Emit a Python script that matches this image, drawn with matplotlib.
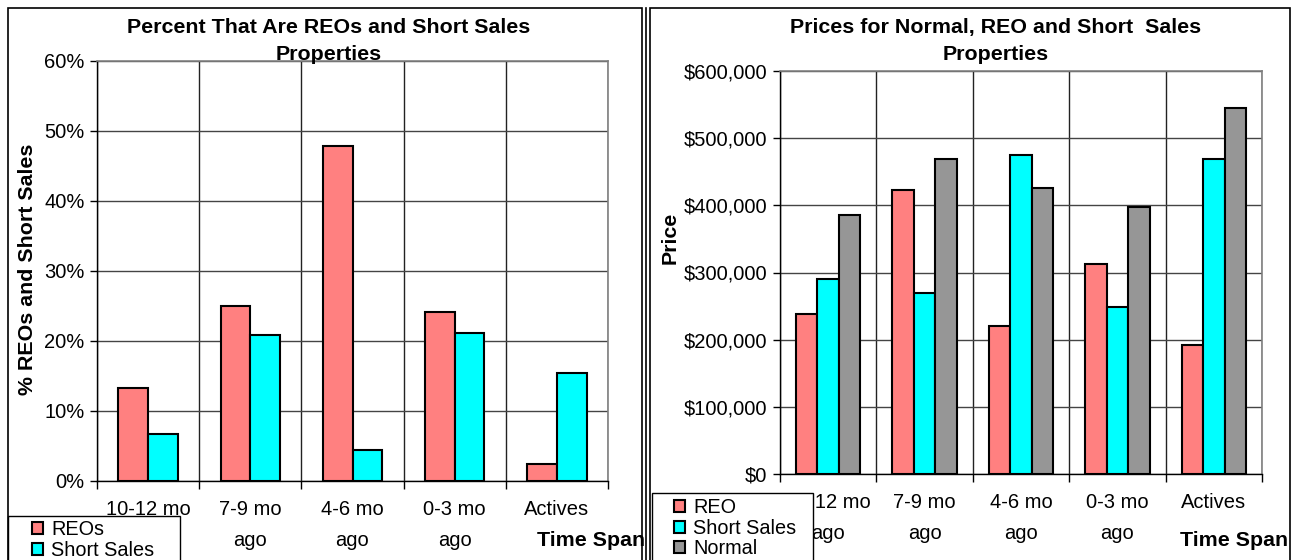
import numpy as np
import matplotlib
matplotlib.use('Agg')
import matplotlib.pyplot as plt
from matplotlib.patches import Rectangle
from matplotlib.lines import Line2D
from matplotlib.ticker import FuncFormatter

plt.rcParams['font.family'] = ['Liberation Sans', 'DejaVu Sans']

# data
spans = ['10-12 mo\nago', '7-9 mo\nago', '4-6 mo\nago', '0-3 mo\nago', 'Actives']
pct_reo = [13.3, 25.0, 47.8, 24.2, 2.5]
pct_short = [6.7, 20.8, 4.4, 21.2, 15.5]
price_reo = [238000, 423000, 220000, 313000, 192000]
price_short = [290000, 270000, 475000, 249000, 469000]
price_normal = [386000, 469000, 426000, 397000, 545000]

C_REO = '#FF8080'
C_SHORT = '#00FFFF'
C_NORMAL = '#969696'

W, H = 1294, 560
fig = plt.figure(figsize=(W / 100, H / 100), dpi=100)
TICK_FS = 14.5
LAB_FS = 15.4
LEG_FS = 14.3


def fx(px):
    return px / W


def fy(py):
    return 1 - py / H


def box(x0, y0, x1, y1, lw=1.2, fill=False, z=0):
    r = Rectangle((fx(x0), fy(y1)), fx(x1 - x0), (y1 - y0) / H, transform=fig.transFigure,
                  fill=fill, facecolor='white', edgecolor='black', lw=lw, zorder=z)
    fig.patches.append(r)


# panel frames
box(8, 8, 642, 566)
box(650, 8, 1290, 566)
fig.lines.append(Line2D([fx(646), fx(646)], [0, fy(8)], transform=fig.transFigure, color='black', lw=1.2))


def style_axes(ax, n):
    x = np.arange(n)
    ax.set_xlim(-0.5, n - 0.5)
    ax.set_xticks(x)
    ax.set_xticklabels(spans, fontsize=TICK_FS, linespacing=1.78, va='top')
    ax.set_xticks(np.arange(n + 1) - 0.5, minor=True)
    ax.tick_params(axis='x', which='major', length=0, pad=14)
    ax.tick_params(axis='x', which='minor', length=6, width=1, direction='out')
    ax.tick_params(axis='y', length=5, width=1, direction='out', labelsize=TICK_FS, pad=4)
    ax.grid(axis='x', which='minor', color='#222222', lw=1)
    ax.grid(axis='y', which='major', color='#444444', lw=1)
    ax.set_axisbelow(True)
    ax.patch.set_alpha(0)
    for s in ['top', 'right']:
        ax.spines[s].set_color('#808080')
        ax.spines[s].set_linewidth(1.2)
    for s in ['left', 'bottom']:
        ax.spines[s].set_color('black')
        ax.spines[s].set_linewidth(1)


def add_legend(handles, labels, x0, y0, x1, y1, hx, hy):
    box(x0, y0, x1, y1, lw=1, fill=True, z=10)
    leg = fig.legend(handles, labels, loc='upper left', bbox_to_anchor=(fx(hx), fy(hy)),
                     fontsize=LEG_FS, frameon=False, handlelength=0.55, handleheight=0.55,
                     handletextpad=0.42, labelspacing=0.08, borderpad=0, borderaxespad=0)
    leg.set_zorder(11)
    return leg


# left chart: percentages
ax1 = fig.add_axes([fx(97), fy(481), fx(608 - 97), (481 - 61) / H])
x = np.arange(len(spans))
bw = 0.29
b1 = ax1.bar(x - bw / 2, pct_reo, bw, color=C_REO, edgecolor='black', lw=1.5)
b2 = ax1.bar(x + bw / 2, pct_short, bw, color=C_SHORT, edgecolor='black', lw=1.5)
ax1.set_ylim(0, 60)
ax1.set_yticks(np.arange(0, 61, 10))
ax1.yaxis.set_major_formatter(FuncFormatter(lambda v, p: '%d%%' % v))
style_axes(ax1, len(spans))
fig.text(fx(28), fy(269), '% REOs and Short Sales', rotation=90, ha='center', va='center',
         fontsize=LAB_FS, fontweight='bold')
fig.text(fx(329), fy(41), 'Percent That Are REOs and Short Sales\nProperties', ha='center', va='center',
         fontsize=LAB_FS, fontweight='bold', linespacing=1.5)
fig.text(fx(645), fy(541), 'Time Span', ha='right', va='center', fontsize=LAB_FS, fontweight='bold')
add_legend([b1, b2], ['REOs', 'Short Sales'], 8, 516, 180, 570, 32, 520)

# right chart: prices
ax2 = fig.add_axes([fx(780), fy(474), fx(1262 - 780), (474 - 71) / H])
bw = 0.222
r1 = ax2.bar(x - bw, price_reo, bw, color=C_REO, edgecolor='black', lw=1.5)
r2 = ax2.bar(x, price_short, bw, color=C_SHORT, edgecolor='black', lw=1.5)
r3 = ax2.bar(x + bw, price_normal, bw, color=C_NORMAL, edgecolor='black', lw=1.5)
ax2.set_ylim(0, 600000)
ax2.set_yticks(np.arange(0, 600001, 100000))
ax2.yaxis.set_major_formatter(FuncFormatter(lambda v, p: '${:,.0f}'.format(v)))
style_axes(ax2, len(spans))
fig.text(fx(670), fy(238), 'Price', rotation=90, ha='center', va='center', fontsize=LAB_FS, fontweight='bold')
fig.text(fx(996), fy(41), 'Prices for Normal, REO and Short  Sales\nProperties', ha='center', va='center',
         fontsize=LAB_FS, fontweight='bold', linespacing=1.5)
fig.text(fx(1288), fy(541), 'Time Span', ha='right', va='center', fontsize=LAB_FS, fontweight='bold')
add_legend([r1, r2, r3], ['REO', 'Short Sales', 'Normal'], 652, 493, 813, 570, 674, 498)

fig.savefig('out.png', dpi=100)
